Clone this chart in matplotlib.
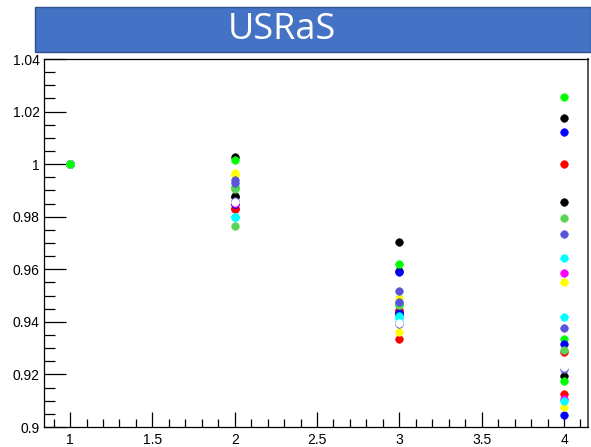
import matplotlib
matplotlib.use("Agg")
import matplotlib.pyplot as plt
from matplotlib.patches import Rectangle
from matplotlib.ticker import MultipleLocator, FuncFormatter

# x positions shared by all series
steps = [1, 2, 3, 4]

# one row per series (ROOT colour, values at x = 1..4), drawn in this order
series_colors = [
    "#000000", "#000000", "#000000",
    "#ff0000", "#ff0000", "#ff0000",
    "#00ff00", "#00ff00",
    "#0000ff", "#0000ff", "#0000ff",
    "#ffff00", "#ffff00",
    "#ff00ff", "#ff00ff",
    "#00ffff", "#00ffff", "#00ffff",
    "#59d454", "#59d454",
    "#5954d9", "#5954d9", "#5954d9",
    "#ffffff",
    "#00ff00",
]
series_values = [
    [1.0, 1.0027, 0.9703, 1.0174],
    [1.0, 0.9876, 0.9595, 0.9855],
    [1.0, 0.9878, 0.9435, 0.9194],
    [1.0, 0.9833, 0.9445, 1.0002],
    [1.0, 0.9828, 0.9334, 0.9125],
    [1.0, 0.9830, 0.9440, 0.9284],
    [1.0, 0.9914, 0.9464, 0.9335],
    [1.0, 0.9908, 0.9470, 0.9175],
    [1.0, 0.9852, 0.9588, 1.0123],
    [1.0, 0.9850, 0.9430, 0.9315],
    [1.0, 0.9850, 0.9432, 0.9046],
    [1.0, 0.9965, 0.9490, 0.9551],
    [1.0, 0.9960, 0.9360, 0.9075],
    [1.0, 0.9853, 0.9398, 0.9587],
    [1.0, 0.9851, 0.9396, 0.9105],
    [1.0, 0.9800, 0.9422, 0.9642],
    [1.0, 0.9798, 0.9414, 0.9420],
    [1.0, 0.9799, 0.9398, 0.9100],
    [1.0, 0.9766, 0.9470, 0.9796],
    [1.0, 0.9905, 0.9465, 0.9293],
    [1.0, 0.9940, 0.9518, 0.9733],
    [1.0, 0.9930, 0.9475, 0.9378],
    [1.0, 0.9860, 0.9392, 0.9222],
    [1.0, 0.9856, 0.9395, 0.9227],
    [1.0, 1.0016, 0.9620, 1.0254],
]

title_text = "USRaS"

plt.rcParams["font.family"] = ["Liberation Sans", "DejaVu Sans"]

fig = plt.figure(figsize=(5.91, 4.47), dpi=100, facecolor="white")
ax = fig.add_axes([0.0745, 0.0447, 0.9205, 0.8233])

for color, vals in zip(series_colors, series_values):
    ax.plot(steps, vals, linestyle="none", marker="o", markersize=5.5,
            markerfacecolor=color, markeredgecolor=color, markeredgewidth=0.4)

ax.set_xlim(0.842, 4.146)
ax.set_ylim(0.9, 1.04)

ax.xaxis.set_major_locator(MultipleLocator(0.5))
ax.xaxis.set_minor_locator(MultipleLocator(0.1))
ax.yaxis.set_major_locator(MultipleLocator(0.02))
ax.yaxis.set_minor_locator(MultipleLocator(0.005))
fmt = FuncFormatter(lambda v, p: f"{v:g}")
ax.xaxis.set_major_formatter(fmt)
ax.yaxis.set_major_formatter(fmt)

ax.tick_params(axis="both", which="both", direction="in", top=False, right=False,
               labelsize=10, width=0.9, colors="black")
ax.tick_params(axis="y", which="major", length=16, pad=3)
ax.tick_params(axis="y", which="minor", length=8)
ax.tick_params(axis="x", which="major", length=11, pad=4)
ax.tick_params(axis="x", which="minor", length=6)
for s in ax.spines.values():
    s.set_linewidth(0.9)
ax.spines["right"].set_color("#555555")
ax.spines["right"].set_linewidth(1.4)

# blue title banner above the frame
banner = Rectangle((35 / 591, 1 - 52 / 447), 1 - 35 / 591, 45 / 447,
                   transform=fig.transFigure, facecolor="#4472c4",
                   edgecolor="#2f528f", linewidth=1.0, zorder=5)
fig.patches.append(banner)
fig.text(282 / 591, 1 - 30 / 447, title_text, color="white", fontsize=26,
         family=["Open Sans", "DejaVu Sans"], ha="center", va="center", zorder=6)

fig.savefig("out.png", dpi=100)
